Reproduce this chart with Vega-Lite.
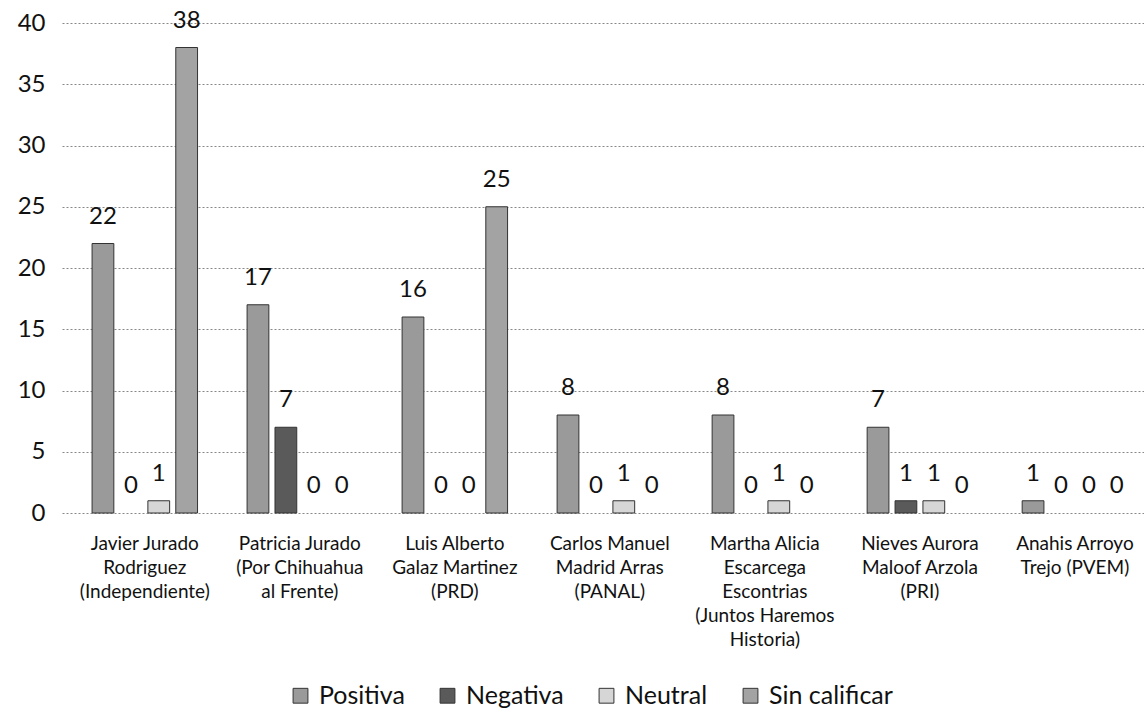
{
  "$schema": "https://vega.github.io/schema/vega-lite/v6.json",
  "width": 1082,
  "height": 490,
  "autosize": "none",
  "padding": {"left": 62, "top": 23, "right": 0, "bottom": 200},
  "background": "white",
  "config": {"view": {"stroke": null}, "font": "Lato"},
  "data": {
    "values": [
      {"candidato": "Javier Jurado|Rodriguez|(Independiente)", "serie": "Positiva", "valor": 22},
      {"candidato": "Javier Jurado|Rodriguez|(Independiente)", "serie": "Negativa", "valor": 0},
      {"candidato": "Javier Jurado|Rodriguez|(Independiente)", "serie": "Neutral", "valor": 1},
      {"candidato": "Javier Jurado|Rodriguez|(Independiente)", "serie": "Sin calificar", "valor": 38},
      {"candidato": "Patricia Jurado|(Por Chihuahua|al Frente)", "serie": "Positiva", "valor": 17},
      {"candidato": "Patricia Jurado|(Por Chihuahua|al Frente)", "serie": "Negativa", "valor": 7},
      {"candidato": "Patricia Jurado|(Por Chihuahua|al Frente)", "serie": "Neutral", "valor": 0},
      {"candidato": "Patricia Jurado|(Por Chihuahua|al Frente)", "serie": "Sin calificar", "valor": 0},
      {"candidato": "Luis Alberto|Galaz Martinez|(PRD)", "serie": "Positiva", "valor": 16},
      {"candidato": "Luis Alberto|Galaz Martinez|(PRD)", "serie": "Negativa", "valor": 0},
      {"candidato": "Luis Alberto|Galaz Martinez|(PRD)", "serie": "Neutral", "valor": 0},
      {"candidato": "Luis Alberto|Galaz Martinez|(PRD)", "serie": "Sin calificar", "valor": 25},
      {"candidato": "Carlos Manuel|Madrid Arras|(PANAL)", "serie": "Positiva", "valor": 8},
      {"candidato": "Carlos Manuel|Madrid Arras|(PANAL)", "serie": "Negativa", "valor": 0},
      {"candidato": "Carlos Manuel|Madrid Arras|(PANAL)", "serie": "Neutral", "valor": 1},
      {"candidato": "Carlos Manuel|Madrid Arras|(PANAL)", "serie": "Sin calificar", "valor": 0},
      {"candidato": "Martha Alicia|Escarcega|Escontrias|(Juntos Haremos|Historia)", "serie": "Positiva", "valor": 8},
      {"candidato": "Martha Alicia|Escarcega|Escontrias|(Juntos Haremos|Historia)", "serie": "Negativa", "valor": 0},
      {"candidato": "Martha Alicia|Escarcega|Escontrias|(Juntos Haremos|Historia)", "serie": "Neutral", "valor": 1},
      {"candidato": "Martha Alicia|Escarcega|Escontrias|(Juntos Haremos|Historia)", "serie": "Sin calificar", "valor": 0},
      {"candidato": "Nieves Aurora|Maloof Arzola|(PRI)", "serie": "Positiva", "valor": 7},
      {"candidato": "Nieves Aurora|Maloof Arzola|(PRI)", "serie": "Negativa", "valor": 1},
      {"candidato": "Nieves Aurora|Maloof Arzola|(PRI)", "serie": "Neutral", "valor": 1},
      {"candidato": "Nieves Aurora|Maloof Arzola|(PRI)", "serie": "Sin calificar", "valor": 0},
      {"candidato": "Anahis Arroyo|Trejo (PVEM)", "serie": "Positiva", "valor": 1},
      {"candidato": "Anahis Arroyo|Trejo (PVEM)", "serie": "Negativa", "valor": 0},
      {"candidato": "Anahis Arroyo|Trejo (PVEM)", "serie": "Neutral", "valor": 0},
      {"candidato": "Anahis Arroyo|Trejo (PVEM)", "serie": "Sin calificar", "valor": 0}
    ]
  },
  "encoding": {
    "x": {
      "field": "candidato",
      "type": "nominal",
      "sort": null,
      "scale": {"paddingInner": 0.28, "paddingOuter": 0.13, "align": 0.67},
      "axis": {
        "title": null,
        "labelAngle": 0,
        "labelExpr": "split(datum.label, '|')",
        "labelFontSize": 19,
        "labelLineHeight": 24,
        "labelColor": "#111",
        "labelBaseline": "top",
        "labelPadding": 21,
        "domain": false,
        "ticks": false,
        "grid": false
      }
    },
    "xOffset": {
      "field": "serie",
      "type": "nominal",
      "sort": ["Positiva", "Negativa", "Neutral", "Sin calificar"],
      "scale": {"paddingInner": 0.22, "paddingOuter": 0.11}
    },
    "y": {
      "field": "valor",
      "type": "quantitative",
      "scale": {"domain": [0, 40]},
      "axis": {
        "title": null,
        "values": [0, 5, 10, 15, 20, 25, 30, 35, 40],
        "labelFontSize": 24,
        "labelPadding": 17,
        "labelColor": "#111",
        "ticks": false,
        "domain": false,
        "gridDash": [2, 2],
        "gridColor": "#888",
        "gridWidth": 1
      }
    }
  },
  "layer": [
    {
      "mark": {"type": "bar", "stroke": "#333", "strokeWidth": 1},
      "encoding": {
        "strokeOpacity": {"condition": {"test": "datum.valor == 0", "value": 0}, "value": 1},
        "color": {
          "field": "serie",
          "type": "nominal",
          "scale": {
            "domain": ["Positiva", "Negativa", "Neutral", "Sin calificar"],
            "range": ["#9a9a9a", "#5a5a5a", "#d6d6d6", "#a3a3a3"]
          },
          "legend": {
            "title": null,
            "orient": "none",
            "legendX": 226,
            "legendY": 660,
            "direction": "horizontal",
            "symbolType": "square",
            "symbolSize": 220,
            "symbolStrokeColor": "#333",
            "symbolStrokeWidth": 1,
            "labelFontSize": 25,
            "labelColor": "#111",
            "labelOffset": 6,
            "columnPadding": 30
          }
        }
      }
    },
    {
      "mark": {"type": "text", "baseline": "bottom", "dy": -15, "fontSize": 24, "color": "#111"},
      "encoding": {"text": {"field": "valor", "type": "quantitative"}}
    }
  ]
}
